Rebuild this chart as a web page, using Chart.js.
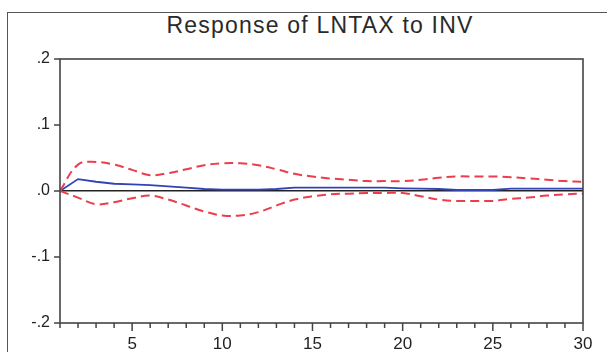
<!DOCTYPE html>
<html>
<head>
<meta charset="utf-8">
<script src="https://cdn.jsdelivr.net/npm/chart.js@4.4.1/dist/chart.umd.min.js"></script>
<style>
html,body{margin:0;padding:0;background:#fff;overflow:hidden;}
#wrap{position:relative;width:607px;height:352px;overflow:hidden;}
#frame{position:absolute;left:7px;top:12px;width:640px;height:400px;border:1.5px solid #555;box-sizing:border-box;pointer-events:none;}
#title{position:absolute;left:0;top:14px;width:640px;text-align:center;font:23px 'Liberation Sans',Arial,sans-serif;line-height:23px;letter-spacing:1.2px;color:#2a2a2a;white-space:nowrap;}
canvas{position:absolute;left:0;top:0;}
</style>
</head>
<body>
<div id="wrap">
<div id="frame"></div>
<div id="title"></div>
<canvas id="c" width="607" height="352"></canvas>
</div>
<script>
const periods = Array.from({length:30},(_,i)=>i+1);
const response = [0,0.018,0.014,0.011,0.010,0.009,0.007,0.005,0.003,0.002,0.002,0.002,0.003,0.005,0.005,0.005,0.005,0.005,0.005,0.004,0.0035,0.003,0.0015,0.0015,0.0015,0.0035,0.0035,0.0035,0.0035,0.0035];
const upperBand = [0,0.040,0.044,0.040,0.032,0.024,0.027,0.033,0.039,0.042,0.042,0.039,0.033,0.026,0.022,0.019,0.017,0.015,0.015,0.015,0.017,0.020,0.022,0.022,0.022,0.021,0.019,0.017,0.015,0.014];
const lowerBand = [0,-0.010,-0.020,-0.017,-0.011,-0.007,-0.013,-0.022,-0.031,-0.037,-0.037,-0.032,-0.022,-0.013,-0.008,-0.005,-0.004,-0.003,-0.003,-0.003,-0.008,-0.013,-0.015,-0.015,-0.015,-0.012,-0.010,-0.007,-0.005,-0.004];
const yTickValues = [-0.2,-0.1,0,0.1,0.2];
const yTickLabels = ['-.2','-.1','.0','.1','.2'];
const xLabelEvery = 5;
const titleText = 'Response of LNTAX to INV';

document.getElementById('title').textContent = titleText;

const pts = arr => arr.map((v,i)=>({x:periods[i], y:v}));

const framePlugin = {
  id:'frame',
  afterDraw(chart){
    const {ctx, chartArea:{left,right,top,bottom}, scales:{x,y}} = chart;
    ctx.save();
    ctx.strokeStyle = '#444';
    ctx.lineWidth = 1.6;
    ctx.strokeRect(left,top,right-left,bottom-top);
    ctx.lineWidth = 1.5;
    ctx.beginPath();
    periods.forEach(p=>{
      const px = x.getPixelForValue(p);
      const len = p % xLabelEvery === 0 ? 8 : 5;
      ctx.moveTo(px,bottom); ctx.lineTo(px,bottom+len);
    });
    yTickValues.forEach(v=>{
      const py = y.getPixelForValue(v);
      ctx.moveTo(left-6,py); ctx.lineTo(left,py);
    });
    ctx.stroke();
    ctx.restore();
  }
};

new Chart(document.getElementById('c'), {
  type:'line',
  data:{
    datasets:[
      {data:pts(upperBand), borderColor:'#ec3d4c', borderWidth:2, borderDash:[9,5], tension:0.4, pointRadius:0, fill:false},
      {data:pts(lowerBand), borderColor:'#ec3d4c', borderWidth:2, borderDash:[9,5], tension:0.4, pointRadius:0, fill:false},
      {data:pts(response), borderColor:'#3243b8', borderWidth:1.8, tension:0, pointRadius:0, fill:false}
    ]
  },
  options:{
    responsive:false, animation:false, devicePixelRatio:1,
    layout:{padding:{left:0,right:24,top:59,bottom:0}},
    plugins:{legend:{display:false}, tooltip:{enabled:false}, title:{display:false}},
    scales:{
      x:{type:'linear', min:1, max:30,
        afterFit(s){s.height=29;},
        grid:{drawOnChartArea:false, drawTicks:false}, border:{display:false},
        ticks:{stepSize:1, autoSkip:false, maxRotation:0, padding:11, color:'#222',
          font:{family:'Liberation Sans, Arial', size:17},
          callback:v=> v % xLabelEvery === 0 ? String(v) : ''}
      },
      y:{type:'linear', min:-0.2, max:0.2,
        afterFit(s){s.width=60;},
        afterBuildTicks(s){ s.ticks = yTickValues.map(v=>({value:v})); },
        grid:{drawTicks:false, color:c=> c.tick && c.tick.value===0 ? '#222' : 'rgba(0,0,0,0)', lineWidth:1.5},
        border:{display:false},
        ticks:{padding:10, color:'#222', font:{family:'Liberation Sans, Arial', size:16},
          callback:v=>{const i=yTickValues.findIndex(t=>Math.abs(t-v)<1e-9); return i>=0?yTickLabels[i]:'';}}
      }
    }
  },
  plugins:[framePlugin]
});
</script>
</body>
</html>
